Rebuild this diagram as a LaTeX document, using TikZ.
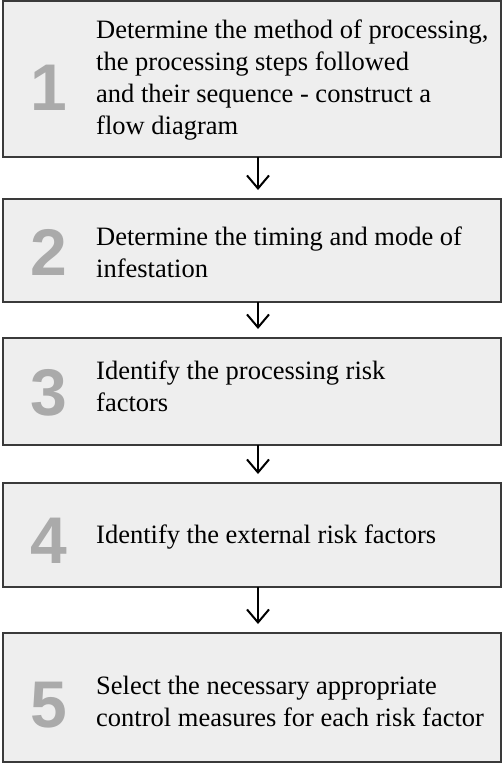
\documentclass[tikz,border=0pt]{standalone}
\usepackage{fontspec}
\setmainfont{Liberation Serif}
\newfontfamily\numfont{Liberation Sans}
\usetikzlibrary{arrows.meta}
\definecolor{boxfill}{HTML}{EEEEEE}
\definecolor{boxline}{HTML}{3A3A3A}
\definecolor{numgray}{HTML}{AAAAAA}
\begin{document}
\begin{tikzpicture}[x=1pt,y=-1pt,
  stepbox/.style={draw=boxline, line width=1.5pt, fill=boxfill,
    minimum width=498pt, inner sep=0pt, outer sep=0pt},
  stepnum/.style={anchor=base, inner sep=0pt, text=numgray,
    font=\numfont\bfseries\fontsize{66}{66}\selectfont},
  steptext/.style={anchor=base west, inner sep=0pt, align=left,
    font=\fontsize{26.5}{32}\selectfont},
  flow/.style={line width=2pt, shorten >=9pt,
    -{Straight Barb[length=13pt,width=22pt]}}]
  \useasboundingbox (0,0) rectangle (503,763);

  % boxes
  \node[stepbox, minimum height=156pt] (b1) at (252,79) {};
  \node[stepbox, minimum height=103pt] (b2) at (252,250.5) {};
  \node[stepbox, minimum height=107pt] (b3) at (252,391.5) {};
  \node[stepbox, minimum height=104pt] (b4) at (252,535) {};
  \node[stepbox, minimum height=129pt] (b5) at (252,697.5) {};

  % step numbers
  \node[stepnum] (n1) at (49,110) {1};
  \node[stepnum] (n2) at (49,275) {2};
  \node[stepnum] (n3) at (49,415) {3};
  \node[stepnum] (n4) at (49,563) {4};
  \node[stepnum] (n5) at (49,727) {5};

  % step texts (anchored on the baseline of the last line)
  \node[steptext] (t1) at (96,134.3) {Determine the method of processing,\\the processing steps followed\\and their sequence - construct a\\flow diagram};
  \node[steptext] (t2) at (96,277.7) {Determine the timing and mode of\\infestation};
  \node[steptext] (t3) at (96,411.8) {Identify the processing risk\\factors};
  \node[steptext] (t4) at (96,543) {Identify the external risk factors};
  \node[steptext] (t5) at (96,726.7) {Select the necessary appropriate\\control measures for each risk factor};

  % connectors
  \draw[flow] ([xshift=6pt]b1.south) -- ([xshift=6pt]b2.north);
  \draw[flow] ([xshift=6pt]b2.south) -- ([xshift=6pt]b3.north);
  \draw[flow] ([xshift=6pt]b3.south) -- ([xshift=6pt]b4.north);
  \draw[flow] ([xshift=6pt]b4.south) -- ([xshift=6pt]b5.north);
\end{tikzpicture}
\end{document}
